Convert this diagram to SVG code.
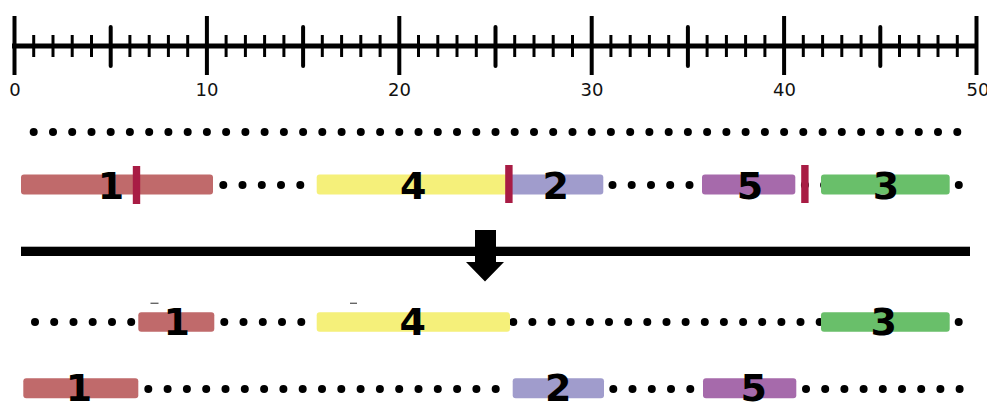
<svg xmlns="http://www.w3.org/2000/svg" width="987" height="403" viewBox="0 0 987 403">
<style>
.axis{stroke:#000;stroke-width:5}
.maj{stroke:#000;stroke-width:4}
.mid{stroke:#000;stroke-width:4;stroke-linecap:round}
.min{stroke:#000;stroke-width:3}
.tl{font-family:"DejaVu Sans",sans-serif;font-size:18px;fill:#111;text-anchor:middle}
.d{fill:#000}
.lbl{font-family:"DejaVu Sans",sans-serif;font-weight:bold;font-size:38px;fill:#000;text-anchor:middle}
.b1{fill:#c06a6b}
.b4{fill:#f5f07a}
.b2{fill:#a09ccc}
.b5{fill:#a66aab}
.b3{fill:#69bf6a}
.mk{fill:#a81c44}
</style>
<defs>
<circle id="dot" r="4" class="d"/>
</defs>
<g id="ruler">
<line class="axis" x1="12" y1="46" x2="978" y2="46"/>
<g id="ticks"><line class="maj" x1="14.5" y1="16" x2="14.5" y2="75"/><line class="min" x1="33.7" y1="35" x2="33.7" y2="57"/><line class="min" x1="53.0" y1="35" x2="53.0" y2="57"/><line class="min" x1="72.2" y1="35" x2="72.2" y2="57"/><line class="min" x1="91.5" y1="35" x2="91.5" y2="57"/><line class="mid" x1="110.7" y1="27" x2="110.7" y2="66"/><line class="min" x1="129.9" y1="35" x2="129.9" y2="57"/><line class="min" x1="149.2" y1="35" x2="149.2" y2="57"/><line class="min" x1="168.4" y1="35" x2="168.4" y2="57"/><line class="min" x1="187.7" y1="35" x2="187.7" y2="57"/><line class="maj" x1="206.9" y1="16" x2="206.9" y2="75"/><line class="min" x1="226.1" y1="35" x2="226.1" y2="57"/><line class="min" x1="245.4" y1="35" x2="245.4" y2="57"/><line class="min" x1="264.6" y1="35" x2="264.6" y2="57"/><line class="min" x1="283.9" y1="35" x2="283.9" y2="57"/><line class="mid" x1="303.1" y1="27" x2="303.1" y2="66"/><line class="min" x1="322.3" y1="35" x2="322.3" y2="57"/><line class="min" x1="341.6" y1="35" x2="341.6" y2="57"/><line class="min" x1="360.8" y1="35" x2="360.8" y2="57"/><line class="min" x1="380.1" y1="35" x2="380.1" y2="57"/><line class="maj" x1="399.3" y1="16" x2="399.3" y2="75"/><line class="min" x1="418.5" y1="35" x2="418.5" y2="57"/><line class="min" x1="437.8" y1="35" x2="437.8" y2="57"/><line class="min" x1="457.0" y1="35" x2="457.0" y2="57"/><line class="min" x1="476.3" y1="35" x2="476.3" y2="57"/><line class="mid" x1="495.5" y1="27" x2="495.5" y2="66"/><line class="min" x1="514.7" y1="35" x2="514.7" y2="57"/><line class="min" x1="534.0" y1="35" x2="534.0" y2="57"/><line class="min" x1="553.2" y1="35" x2="553.2" y2="57"/><line class="min" x1="572.5" y1="35" x2="572.5" y2="57"/><line class="maj" x1="591.7" y1="16" x2="591.7" y2="75"/><line class="min" x1="610.9" y1="35" x2="610.9" y2="57"/><line class="min" x1="630.2" y1="35" x2="630.2" y2="57"/><line class="min" x1="649.4" y1="35" x2="649.4" y2="57"/><line class="min" x1="668.7" y1="35" x2="668.7" y2="57"/><line class="mid" x1="687.9" y1="27" x2="687.9" y2="66"/><line class="min" x1="707.1" y1="35" x2="707.1" y2="57"/><line class="min" x1="726.4" y1="35" x2="726.4" y2="57"/><line class="min" x1="745.6" y1="35" x2="745.6" y2="57"/><line class="min" x1="764.9" y1="35" x2="764.9" y2="57"/><line class="maj" x1="784.1" y1="16" x2="784.1" y2="75"/><line class="min" x1="803.3" y1="35" x2="803.3" y2="57"/><line class="min" x1="822.6" y1="35" x2="822.6" y2="57"/><line class="min" x1="841.8" y1="35" x2="841.8" y2="57"/><line class="min" x1="861.1" y1="35" x2="861.1" y2="57"/><line class="mid" x1="880.3" y1="27" x2="880.3" y2="66"/><line class="min" x1="899.5" y1="35" x2="899.5" y2="57"/><line class="min" x1="918.8" y1="35" x2="918.8" y2="57"/><line class="min" x1="938.0" y1="35" x2="938.0" y2="57"/><line class="min" x1="957.3" y1="35" x2="957.3" y2="57"/><line class="maj" x1="976.5" y1="16" x2="976.5" y2="75"/></g>
<text class="tl" x="15" y="95.5">0</text>
<text class="tl" x="207" y="95.5">10</text>
<text class="tl" x="399.5" y="95.5">20</text>
<text class="tl" x="592" y="95.5">30</text>
<text class="tl" x="784.5" y="95.5">40</text>
<text class="tl" x="978" y="95.5">50</text>
</g>
<g id="row1-dots"><use href="#dot" x="33.7" y="132"/><use href="#dot" x="53.0" y="132"/><use href="#dot" x="72.2" y="132"/><use href="#dot" x="91.5" y="132"/><use href="#dot" x="110.7" y="132"/><use href="#dot" x="129.9" y="132"/><use href="#dot" x="149.2" y="132"/><use href="#dot" x="168.4" y="132"/><use href="#dot" x="187.7" y="132"/><use href="#dot" x="206.9" y="132"/><use href="#dot" x="226.1" y="132"/><use href="#dot" x="245.4" y="132"/><use href="#dot" x="264.6" y="132"/><use href="#dot" x="283.9" y="132"/><use href="#dot" x="303.1" y="132"/><use href="#dot" x="322.3" y="132"/><use href="#dot" x="341.6" y="132"/><use href="#dot" x="360.8" y="132"/><use href="#dot" x="380.1" y="132"/><use href="#dot" x="399.3" y="132"/><use href="#dot" x="418.5" y="132"/><use href="#dot" x="437.8" y="132"/><use href="#dot" x="457.0" y="132"/><use href="#dot" x="476.3" y="132"/><use href="#dot" x="495.5" y="132"/><use href="#dot" x="514.7" y="132"/><use href="#dot" x="534.0" y="132"/><use href="#dot" x="553.2" y="132"/><use href="#dot" x="572.5" y="132"/><use href="#dot" x="591.7" y="132"/><use href="#dot" x="610.9" y="132"/><use href="#dot" x="630.2" y="132"/><use href="#dot" x="649.4" y="132"/><use href="#dot" x="668.7" y="132"/><use href="#dot" x="687.9" y="132"/><use href="#dot" x="707.1" y="132"/><use href="#dot" x="726.4" y="132"/><use href="#dot" x="745.6" y="132"/><use href="#dot" x="764.9" y="132"/><use href="#dot" x="784.1" y="132"/><use href="#dot" x="803.3" y="132"/><use href="#dot" x="822.6" y="132"/><use href="#dot" x="841.8" y="132"/><use href="#dot" x="861.1" y="132"/><use href="#dot" x="880.3" y="132"/><use href="#dot" x="899.5" y="132"/><use href="#dot" x="918.8" y="132"/><use href="#dot" x="938.0" y="132"/><use href="#dot" x="957.3" y="132"/></g>
<g id="row2-dots"><use href="#dot" x="223.3" y="185"/><use href="#dot" x="242.5" y="185"/><use href="#dot" x="261.8" y="185"/><use href="#dot" x="281.0" y="185"/><use href="#dot" x="300.3" y="185"/><use href="#dot" x="612.5" y="185"/><use href="#dot" x="631.7" y="185"/><use href="#dot" x="651.0" y="185"/><use href="#dot" x="670.2" y="185"/><use href="#dot" x="689.5" y="185"/><use href="#dot" x="804.9" y="185"/><use href="#dot" x="824.1" y="185"/><use href="#dot" x="958.8" y="185"/></g>
<g id="row3-dots"><use href="#dot" x="35.0" y="322"/><use href="#dot" x="54.2" y="322"/><use href="#dot" x="73.5" y="322"/><use href="#dot" x="92.7" y="322"/><use href="#dot" x="112.0" y="322"/><use href="#dot" x="131.2" y="322"/><use href="#dot" x="224.3" y="322"/><use href="#dot" x="243.5" y="322"/><use href="#dot" x="262.8" y="322"/><use href="#dot" x="282.0" y="322"/><use href="#dot" x="301.3" y="322"/><use href="#dot" x="513.3" y="322"/><use href="#dot" x="532.4" y="322"/><use href="#dot" x="551.6" y="322"/><use href="#dot" x="570.7" y="322"/><use href="#dot" x="589.9" y="322"/><use href="#dot" x="609.0" y="322"/><use href="#dot" x="628.2" y="322"/><use href="#dot" x="647.3" y="322"/><use href="#dot" x="666.5" y="322"/><use href="#dot" x="685.6" y="322"/><use href="#dot" x="704.8" y="322"/><use href="#dot" x="723.9" y="322"/><use href="#dot" x="743.1" y="322"/><use href="#dot" x="762.2" y="322"/><use href="#dot" x="781.4" y="322"/><use href="#dot" x="800.5" y="322"/><use href="#dot" x="819.7" y="322"/><use href="#dot" x="958.7" y="322"/></g>
<g id="row4-dots"><use href="#dot" x="148.3" y="389"/><use href="#dot" x="167.6" y="389"/><use href="#dot" x="186.9" y="389"/><use href="#dot" x="206.2" y="389"/><use href="#dot" x="225.5" y="389"/><use href="#dot" x="244.8" y="389"/><use href="#dot" x="264.1" y="389"/><use href="#dot" x="283.4" y="389"/><use href="#dot" x="302.7" y="389"/><use href="#dot" x="322.0" y="389"/><use href="#dot" x="341.3" y="389"/><use href="#dot" x="360.6" y="389"/><use href="#dot" x="379.9" y="389"/><use href="#dot" x="399.2" y="389"/><use href="#dot" x="418.5" y="389"/><use href="#dot" x="437.8" y="389"/><use href="#dot" x="457.1" y="389"/><use href="#dot" x="476.4" y="389"/><use href="#dot" x="495.7" y="389"/><use href="#dot" x="613.3" y="389"/><use href="#dot" x="632.5" y="389"/><use href="#dot" x="651.8" y="389"/><use href="#dot" x="671.0" y="389"/><use href="#dot" x="690.3" y="389"/><use href="#dot" x="806.0" y="389"/><use href="#dot" x="825.2" y="389"/><use href="#dot" x="844.4" y="389"/><use href="#dot" x="863.6" y="389"/><use href="#dot" x="882.8" y="389"/><use href="#dot" x="902.0" y="389"/><use href="#dot" x="921.2" y="389"/><use href="#dot" x="940.4" y="389"/><use href="#dot" x="959.6" y="389"/></g>
<g id="r2-seg1"><rect class="b1" x="21" y="174.5" width="192" height="20" rx="3"/><text class="lbl" x="111" y="199">1</text></g>
<g id="r2-seg4"><rect class="b4" x="316.7" y="174.5" width="192" height="20" rx="3"/><text class="lbl" x="413.3" y="199">4</text></g>
<g id="r2-seg2"><rect class="b2" x="509" y="174.5" width="94.3" height="20" rx="3"/><text class="lbl" x="555.7" y="199">2</text></g>
<g id="r2-seg5"><rect class="b5" x="702" y="174.5" width="93.3" height="20" rx="3"/><text class="lbl" x="750" y="199">5</text></g>
<g id="r2-seg3"><rect class="b3" x="821" y="174.5" width="128.7" height="20" rx="3"/><text class="lbl" x="886" y="199">3</text></g>
<g id="cut-markers"><rect class="mk" x="132.8" y="166" width="7.4" height="38"/><rect class="mk" x="505.2" y="165" width="7.4" height="38"/><rect class="mk" x="801.2" y="165" width="7.4" height="38"/></g>
<g id="connectors">
<rect x="21" y="246.7" width="949" height="9.3" fill="#000"/>
<polygon points="475,230 496,230 496,262 504,262 485,281.5 466,262 475,262" fill="#000"/>
</g>
<g id="r3-seg1"><rect class="b1" x="138.3" y="312.3" width="76" height="19.5" rx="3"/><text class="lbl" x="176.7" y="335">1</text></g>
<g id="r3-seg4"><rect class="b4" x="316.7" y="312.3" width="193.3" height="19.5" rx="3"/><text class="lbl" x="412.7" y="335">4</text></g>
<g id="r3-seg3"><rect class="b3" x="821" y="312.3" width="128.7" height="19.5" rx="3"/><text class="lbl" x="883.7" y="335">3</text></g>
<g id="marks"><rect x="150.5" y="302.6" width="8" height="1.4" fill="#666"/><rect x="350" y="302.6" width="7" height="1.4" fill="#666"/></g>
<g id="r4-seg1"><rect class="b1" x="23.3" y="378.3" width="115" height="20" rx="3"/><text class="lbl" x="79" y="401">1</text></g>
<g id="r4-seg2"><rect class="b2" x="512.7" y="378.3" width="91.3" height="20" rx="3"/><text class="lbl" x="558.3" y="401">2</text></g>
<g id="r4-seg5"><rect class="b5" x="703" y="378.3" width="93.3" height="20" rx="3"/><text class="lbl" x="753.7" y="401">5</text></g>
</svg>
